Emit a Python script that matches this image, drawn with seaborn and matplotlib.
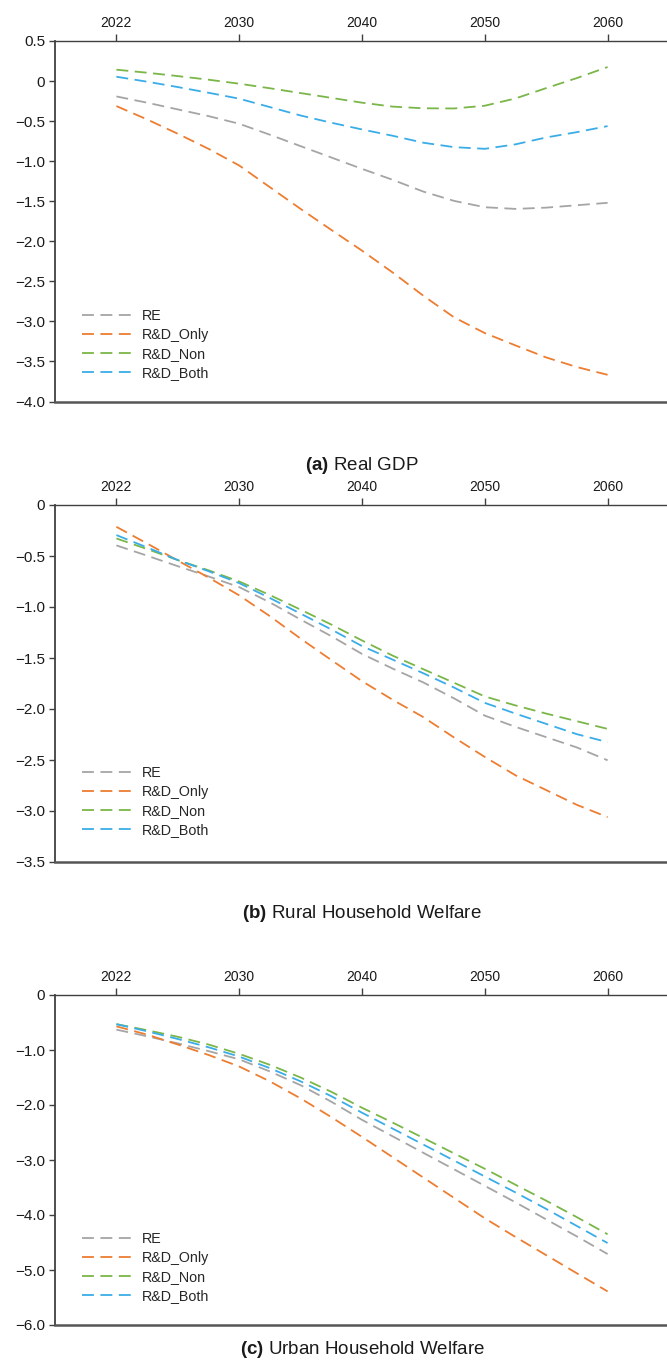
import numpy as np
import pandas as pd
import matplotlib
matplotlib.use("Agg")
import matplotlib.pyplot as plt
from matplotlib.ticker import FixedLocator, FuncFormatter
import seaborn as sns

# ---- data -------------------------------------------------------------
tick_years = [2022, 2030, 2040, 2050, 2060]
years = [2022, 2024, 2026, 2028, 2030, 2032.5, 2035, 2037.5, 2040,
         2042.5, 2045, 2047.5, 2050, 2052.5, 2055, 2057.5, 2060]
scenarios = ["RE", "R&D_Only", "R&D_Non", "R&D_Both"]

gdp_re = [-0.192, -0.27, -0.354, -0.4375, -0.533, -0.67, -0.8125, -0.954, -1.096,
          -1.233, -1.38, -1.496, -1.575, -1.596, -1.58, -1.55, -1.52]
gdp_only = [-0.3125, -0.479, -0.658, -0.846, -1.054, -1.325, -1.596, -1.858, -2.117,
            -2.39, -2.68, -2.95, -3.146, -3.30, -3.45, -3.57, -3.667]
gdp_non = [0.142, 0.104, 0.062, 0.017, -0.033, -0.09, -0.15, -0.21, -0.27,
           -0.319, -0.34, -0.342, -0.308, -0.217, -0.088, 0.0375, 0.175]
gdp_both = [0.054, -0.008, -0.075, -0.146, -0.22, -0.325, -0.43, -0.52, -0.604,
            -0.683, -0.77, -0.825, -0.846, -0.79, -0.704, -0.6375, -0.5625]

rural_re = [-0.396, -0.497, -0.60, -0.70, -0.805, -0.955, -1.123, -1.286, -1.46,
            -1.604, -1.74, -1.896, -2.065, -2.175, -2.276, -2.377, -2.503]
rural_only = [-0.214, -0.377, -0.545, -0.711, -0.886, -1.09, -1.31, -1.52, -1.727,
              -1.91, -2.08, -2.28, -2.47, -2.65, -2.795, -2.94, -3.06]
rural_non = [-0.328, -0.432, -0.54, -0.64, -0.75, -0.883, -1.026, -1.172, -1.328,
             -1.477, -1.61, -1.743, -1.877, -1.965, -2.045, -2.12, -2.195]
rural_both = [-0.295, -0.416, -0.54, -0.649, -0.766, -0.912, -1.065, -1.22, -1.383,
              -1.516, -1.65, -1.79, -1.94, -2.045, -2.146, -2.247, -2.325]

urban_re = [-0.63, -0.75, -0.88, -1.02, -1.17, -1.39, -1.64, -1.94, -2.27,
            -2.57, -2.87, -3.17, -3.47, -3.77, -4.08, -4.39, -4.71]
urban_only = [-0.57, -0.72, -0.90, -1.09, -1.30, -1.57, -1.88, -2.22, -2.58,
              -2.95, -3.32, -3.69, -4.06, -4.40, -4.73, -5.06, -5.39]
urban_non = [-0.53, -0.64, -0.76, -0.90, -1.07, -1.27, -1.50, -1.76, -2.05,
             -2.32, -2.60, -2.88, -3.16, -3.45, -3.74, -4.04, -4.35]
urban_both = [-0.53, -0.66, -0.80, -0.95, -1.12, -1.33, -1.57, -1.84, -2.14,
              -2.43, -2.72, -3.01, -3.30, -3.59, -3.89, -4.20, -4.51]

panels = [
    ("a", "Real GDP", [gdp_re, gdp_only, gdp_non, gdp_both], (-4.0, 0.5), 0.5),
    ("b", "Rural Household Welfare", [rural_re, rural_only, rural_non, rural_both], (-3.5, 0.0), 0.5),
    ("c", "Urban Household Welfare", [urban_re, urban_only, urban_non, urban_both], (-6.0, 0.0), 1.0),
]

colors = {"RE": "#A5A5A5", "R&D_Only": "#ED7D31", "R&D_Non": "#7AB648", "R&D_Both": "#3AADE8"}

# ---- styling ----------------------------------------------------------
sns.set_theme(style="white")
plt.rcParams["font.family"] = ["Liberation Sans", "DejaVu Sans"]
plt.rcParams["mathtext.fontset"] = "custom"
plt.rcParams["mathtext.rm"] = "Liberation Sans"
plt.rcParams["mathtext.bf"] = "Liberation Sans:bold"
plt.rcParams["axes.unicode_minus"] = True

# category-style year axis: ticks evenly spaced regardless of year gaps
idx_years = [2014] + tick_years + [2070]
idx_pos = [-1.0, 0.0, 1.0, 2.0, 3.0, 4.0, 5.0]


def year_to_pos(x):
    return np.interp(x, idx_years, idx_pos)


def pos_to_year(p):
    return np.interp(p, idx_pos, idx_years)


fig = plt.figure(figsize=(6.67, 13.65), dpi=100)
H = 1365.0
W = 667.0
# (top px, bottom px) of each plotting area
boxes = [(41.0, 401.5), (505.0, 862.0), (995.0, 1325.0)]
title_y = [466.0, 913.0, 1350.0]
legend_top = [0.256, 0.268, 0.282]
left_px = 55.0
right_px = 669.0

dash = (6.6, 3.6)

for (tag, name, series, ylim, step), (top, bot), ty, lt in zip(panels, boxes, title_y, legend_top):
    ax = fig.add_axes([left_px / W, 1 - bot / H, (right_px - left_px) / W, (bot - top) / H])
    ax.set_xscale("function", functions=(year_to_pos, pos_to_year))

    df = pd.DataFrame({
        "year": np.tile(years, len(scenarios)),
        "value": np.concatenate(series),
        "scenario": np.repeat(scenarios, len(years)),
    })
    sns.lineplot(data=df, x="year", y="value", hue="scenario", style="scenario",
                 hue_order=scenarios, style_order=scenarios, palette=colors,
                 dashes={s: dash for s in scenarios}, linewidth=1.3,
                 legend=False, ax=ax)

    ax.set_xlim(2018, 2065)
    ax.set_ylim(*ylim)
    ax.set_xlabel("")
    ax.set_ylabel("")

    ax.xaxis.set_major_locator(FixedLocator(tick_years))
    ax.xaxis.set_minor_locator(FixedLocator([]))
    ax.xaxis.set_major_formatter(FuncFormatter(lambda v, p: f"{int(round(v))}"))
    ax.xaxis.tick_top()
    yt = np.arange(ylim[0], ylim[1] + step / 2, step)
    ax.yaxis.set_major_locator(FixedLocator(yt))
    ax.yaxis.set_major_formatter(FuncFormatter(
        lambda v, p: "0" if abs(v) < 1e-9 else f"{v:.1f}".replace("-", "\u2212")))

    ax.tick_params(axis="x", which="major", top=True, bottom=False, direction="out",
                   length=5, width=1.0, color="#404040", labelsize=10, pad=3,
                   labelcolor="#1a1a1a")
    ax.tick_params(axis="y", which="major", left=True, direction="out", length=4,
                   width=1.0, color="#404040", labelsize=11, pad=3, labelcolor="#1a1a1a")

    for side in ["top", "left", "bottom"]:
        ax.spines[side].set_visible(True)
    ax.spines["right"].set_visible(False)
    ax.spines["top"].set_color("#404040")
    ax.spines["top"].set_linewidth(1.0)
    ax.spines["left"].set_color("#404040")
    ax.spines["left"].set_linewidth(1.3)
    ax.spines["bottom"].set_color("#555555")
    ax.spines["bottom"].set_linewidth(1.8)
    ax.grid(False)

    handles = ax.get_lines()[:len(scenarios)]
    ax.legend(handles, scenarios, loc="upper left", bbox_to_anchor=(0.044, lt),
              frameon=False, fontsize=10.3, handlelength=3.6, handletextpad=0.6,
              labelspacing=0.34, borderpad=0.0, borderaxespad=0.0)

    fig.text((left_px + right_px) / 2 / W, 1 - ty / H,
             r"$\mathbf{(" + tag + r")}$ " + name,
             ha="center", va="center", fontsize=13.5, color="#1a1a1a")

fig.savefig("out.png", dpi=100)
